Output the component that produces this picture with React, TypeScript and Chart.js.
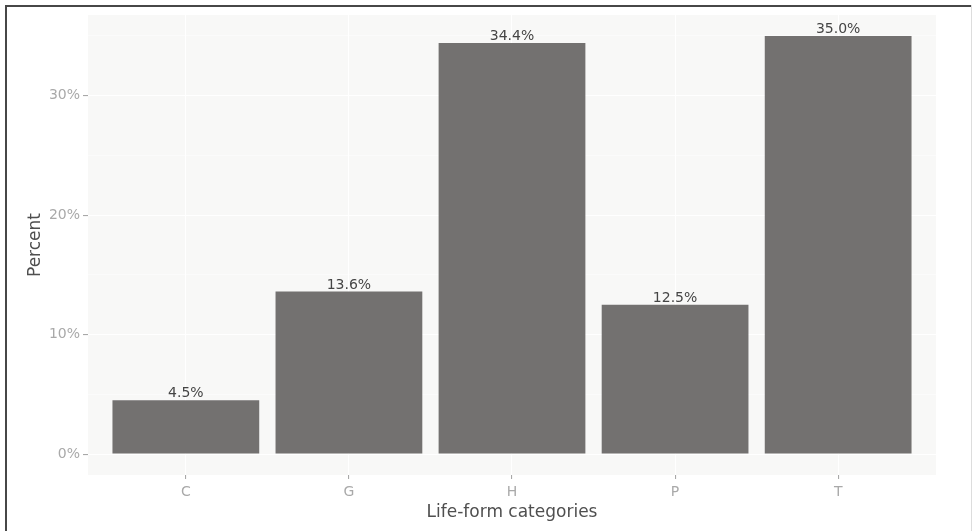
import React, { useEffect, useRef } from "react";
import { Chart, registerables } from "chart.js";

Chart.register(...registerables);

const categories = ["C", "G", "H", "P", "T"];
const percents = [4.5, 13.6, 34.4, 12.5, 35.0];
const barLabels = ["4.5%", "13.6%", "34.4%", "12.5%", "35.0%"];
const yTickValues = [0, 5, 10, 15, 20, 25, 30, 35];
const yMajorTicks = [0, 10, 20, 30];

const FONT = "'DejaVu Sans', Verdana, sans-serif";

export default function App() {
  const ref = useRef<HTMLCanvasElement | null>(null);

  useEffect(() => {
    if (!ref.current) return;
    const bgPlugin = {
      id: "bgPanel",
      beforeDraw(chart: any) {
        const { ctx, chartArea } = chart;
        ctx.save();
        ctx.fillStyle = "#ffffff";
        ctx.fillRect(0, 0, chart.width, chart.height);
        ctx.fillStyle = "#f8f8f7";
        ctx.fillRect(chartArea.left, chartArea.top, chartArea.right - chartArea.left, chartArea.bottom - chartArea.top);
        ctx.restore();
      },
      afterDraw(chart: any) {
        const { ctx } = chart;
        ctx.save();
        ctx.fillStyle = "#474747";
        ctx.fillRect(5, 5, chart.width - 5, 2);
        ctx.fillRect(5, 5, 2, chart.height - 5);
        ctx.fillStyle = "#dddddd";
        ctx.fillRect(chart.width - 1, 5, 1, chart.height - 5);
        ctx.restore();
      },
    };
    const labelPlugin = {
      id: "barLabels",
      afterDatasetsDraw(chart: any) {
        const { ctx } = chart;
        const meta = chart.getDatasetMeta(0);
        ctx.save();
        ctx.font = `14px ${FONT}`;
        ctx.fillStyle = "#454545";
        ctx.textAlign = "center";
        ctx.textBaseline = "alphabetic";
        meta.data.forEach((el: any, i: number) => {
          ctx.fillText(barLabels[i], el.x, el.y - 3);
        });
        ctx.restore();
      },
    };

    const chart = new Chart(ref.current, {
      type: "bar",
      data: {
        datasets: [
          {
            data: percents.map((v, i) => ({ x: i + 1, y: v })),
            backgroundColor: "#737170",
            borderWidth: 0,
            barPercentage: 0.9,
            categoryPercentage: 1.0,
          },
        ],
      },
      options: {
        animation: false,
        responsive: false,
        maintainAspectRatio: false,
        layout: { padding: { left: 0, top: 15, right: 36, bottom: 0 } },
        plugins: { legend: { display: false }, tooltip: { enabled: false } },
        scales: {
          x: {
            type: "linear",
            offset: false,
            min: 0.4,
            max: 5.6,
            afterBuildTicks(axis: any) {
              axis.ticks = categories.map((_, i) => ({ value: i + 1 }));
            },
            afterFit(axis: any) {
              axis.height = 56;
            },
            border: { display: false },
            grid: {
              offset: false,
              color: "#ffffff",
              lineWidth: 1.1,
              tickColor: "#a8a8a8",
              tickLength: 4,
            },
            ticks: {
              autoSkip: false,
              padding: 5,
              color: "#a9a9a9",
              font: { family: FONT, size: 14 },
              callback: (v: any) => categories[Math.round(Number(v)) - 1] ?? "",
            },
            title: {
              display: true,
              text: "Life-form categories",
              color: "#4f4f4f",
              font: { family: FONT, size: 17 },
              padding: { top: 0, bottom: 8 },
            },
          },
          y: {
            type: "linear",
            min: -1.75,
            max: 36.75,
            afterBuildTicks(axis: any) {
              axis.ticks = yTickValues.map((v) => ({ value: v }));
            },
            afterFit(axis: any) {
              axis.width = 88;
            },
            border: { display: false },
            grid: {
              color: "#ffffff",
              lineWidth: (c: any) => (yMajorTicks.includes(c.tick?.value) ? 1.1 : 0.5),
              tickColor: (c: any) => (yMajorTicks.includes(c.tick?.value) ? "#a8a8a8" : "rgba(0,0,0,0)"),
              tickLength: 5,
            },
            ticks: {
              autoSkip: false,
              padding: 3,
              color: "#a9a9a9",
              font: { family: FONT, size: 14 },
              callback: (v: any) => (yMajorTicks.includes(Number(v)) ? `${v}%` : ""),
            },
            title: {
              display: true,
              text: "Percent",
              color: "#4f4f4f",
              font: { family: FONT, size: 17 },
              padding: { top: 25, bottom: 0 },
            },
          },
        },
      },
      plugins: [bgPlugin, labelPlugin],
    } as any);
    return () => chart.destroy();
  }, []);

  return (
    <div style={{ position: "absolute", left: 0, top: 0, width: 972, height: 531, background: "#fff" }}>
      <canvas ref={ref} width={972} height={531} style={{ display: "block", width: 972, height: 531 }} />
    </div>
  );
}
